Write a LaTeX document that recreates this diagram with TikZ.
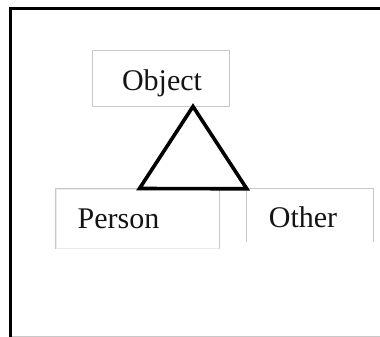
\documentclass[tikz,border=0pt]{standalone}
\usepackage{fontspec}
\setmainfont{Liberation Serif}
\usepackage{xcolor}
\usepackage{tikz}
\usetikzlibrary{positioning, calc}
\definecolor{boxgray}{RGB}{200,200,200}
\definecolor{faintgray}{RGB}{235,235,235}
\definecolor{mydark}{RGB}{20,20,20}
\tikzset{
  classbox/.style={rectangle, draw=boxgray, line width=1pt, inner sep=0pt},
  openbox/.style={rectangle, inner sep=0pt},
  classname/.style={anchor=base, inner sep=0pt, text=mydark,
    font=\fontsize{30}{30}\selectfont},
  genline/.style={line width=3.6pt, color=black, line join=miter},
  frameline/.style={line width=3pt, color=black}
}
\begin{document}
\begin{tikzpicture}[x=1pt, y=-1pt]
  \useasboundingbox (0,0) rectangle (380,337);
  \draw[frameline] (10.5,337) -- (10.5,8.7) -- (380,8.7);
  \draw[boxgray, line width=1pt] (12,336) -- (380,336);
  % classes
  \node[classbox, minimum width=137pt, minimum height=55pt] (object) at (160.5,78.5) {};
  \node[classbox, draw=faintgray, minimum width=163pt, minimum height=59pt] (person) at (137.5,218.5) {};
  \draw[boxgray, line width=1pt] (person.south west) -- (person.north west) -- (person.north east) -- (person.south east);
  \node[openbox, minimum width=126.5pt, minimum height=53pt] (other) at (310.25,215.5) {};
  \draw[boxgray, line width=1pt] (other.south west) -- (other.north west) -- (other.north east) -- (other.south east);
  \node[classname] (objectname) at (162,90) {Object};
  \node[classname] (personname) at (118.5,228.5) {Person};
  \node[classname] (othername) at (303,227) {Other};
  % generalization
  \coordinate (apex) at ($(object.south)+(32.5,0)$);
  \coordinate (baseleft) at ($(person.north west)+(84,0)$);
  \draw[genline] (apex) -- (other.north west) -- (baseleft) -- cycle;
\end{tikzpicture}
\end{document}
